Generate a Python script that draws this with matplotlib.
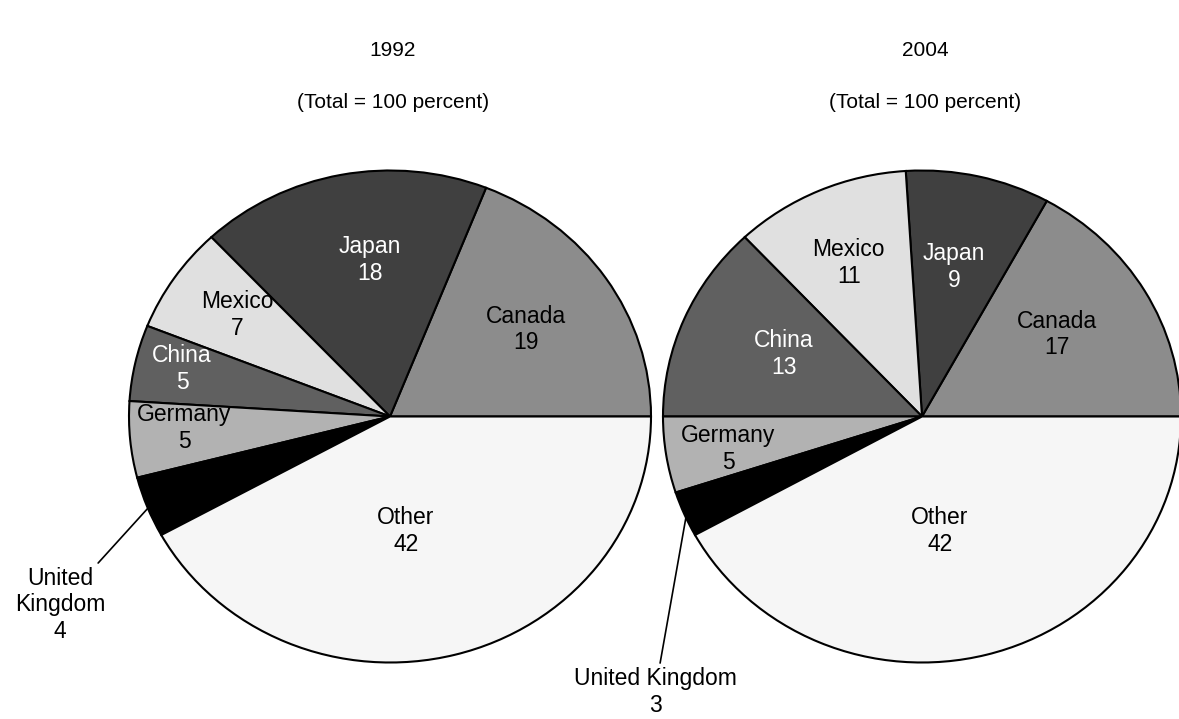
import matplotlib
matplotlib.use("Agg")
import matplotlib.pyplot as plt
import numpy as np

plt.rcParams["font.family"] = ["Liberation Sans", "DejaVu Sans"]

# Data (percent shares)
countries = ["Canada", "Japan", "Mexico", "China", "Germany", "United Kingdom", "Other"]
shares_1992 = [19, 18, 7, 5, 5, 4, 42]
shares_2004 = [17, 9, 11, 13, 5, 3, 42]
years = ["1992", "2004"]
subtitle = "(Total = 100 percent)"

fills = ["#8c8c8c", "#404040", "#e0e0e0", "#606060", "#b2b2b2", "#000000", "#f6f6f6"]
text_colors = ["black", "white", "black", "white", "black", "black", "black"]

W, H = 1179, 719
LABEL_FS = 16.5
TITLE_FS = 15

# pixel geometry of each pie: centre x, centre y, radius x, radius y
geometry = [(390, 416.5, 261, 246), (922, 416.5, 259, 246)]

# label layout: (radius fraction, angle shift in degrees) for in-slice labels
label_layout = [
    {"Canada": (0.63, 0), "Japan": (0.64, -4), "Mexico": (0.715, -1),
     "China": (0.82, -1), "Germany": (0.79, -2), "Other": (0.47, -7)},
    {"Canada": (0.62, 2), "Japan": (0.62, 1), "Mexico": (0.685, 1),
     "China": (0.59, -2), "Germany": (0.76, 1), "Other": (0.47, -6)},
]
# external label for the United Kingdom slice (normalized text centre)
uk_layout = [
    {"text": "United\nKingdom\n{}", "pos": (-1.264, -0.766)},
    {"text": "United Kingdom\n{}", "pos": (-1.031, -1.12)},
]

fig = plt.figure(figsize=(W / 100, H / 100), dpi=100)

for i, shares in enumerate([shares_1992, shares_2004]):
    cx, cy, rx, ry = geometry[i]
    ax = fig.add_axes([(cx - rx) / W, (H - (cy + ry)) / H, 2 * rx / W, 2 * ry / H])
    wedges, _ = ax.pie(
        shares,
        colors=fills,
        startangle=0,
        counterclock=True,
        wedgeprops=dict(edgecolor="black", linewidth=1.5),
    )
    for w in wedges:
        w.set_clip_on(False)
    ax.set_aspect("auto")
    ax.set_xlim(-1, 1)
    ax.set_ylim(-1, 1)
    ax.axis("off")

    total = sum(shares)
    start = 0.0
    for name, val, tc in zip(countries, shares, text_colors):
        mid = start + 360.0 * val / total / 2
        start += 360.0 * val / total
        if name == "United Kingdom":
            a = np.deg2rad(mid)
            ax.annotate(
                uk_layout[i]["text"].format(val),
                xy=(0.99 * np.cos(a), 0.99 * np.sin(a)),
                xytext=uk_layout[i]["pos"],
                ha="center", va="center", fontsize=LABEL_FS, linespacing=1.2,
                arrowprops=dict(arrowstyle="-", color="black", lw=1.2,
                                shrinkA=1, shrinkB=0),
                annotation_clip=False,
            )
            continue
        r, shift = label_layout[i][name]
        a = np.deg2rad(mid + shift)
        ax.text(r * np.cos(a), r * np.sin(a), f"{name}\n{val}",
                ha="center", va="center", fontsize=LABEL_FS, color=tc,
                linespacing=1.2)

    fig.text((cx + 3) / W, 1 - 50 / H, years[i], ha="center", va="center", fontsize=TITLE_FS)
    fig.text((cx + 3) / W, 1 - 103 / H, subtitle, ha="center", va="center", fontsize=TITLE_FS)

fig.savefig("out.png", dpi=100)
